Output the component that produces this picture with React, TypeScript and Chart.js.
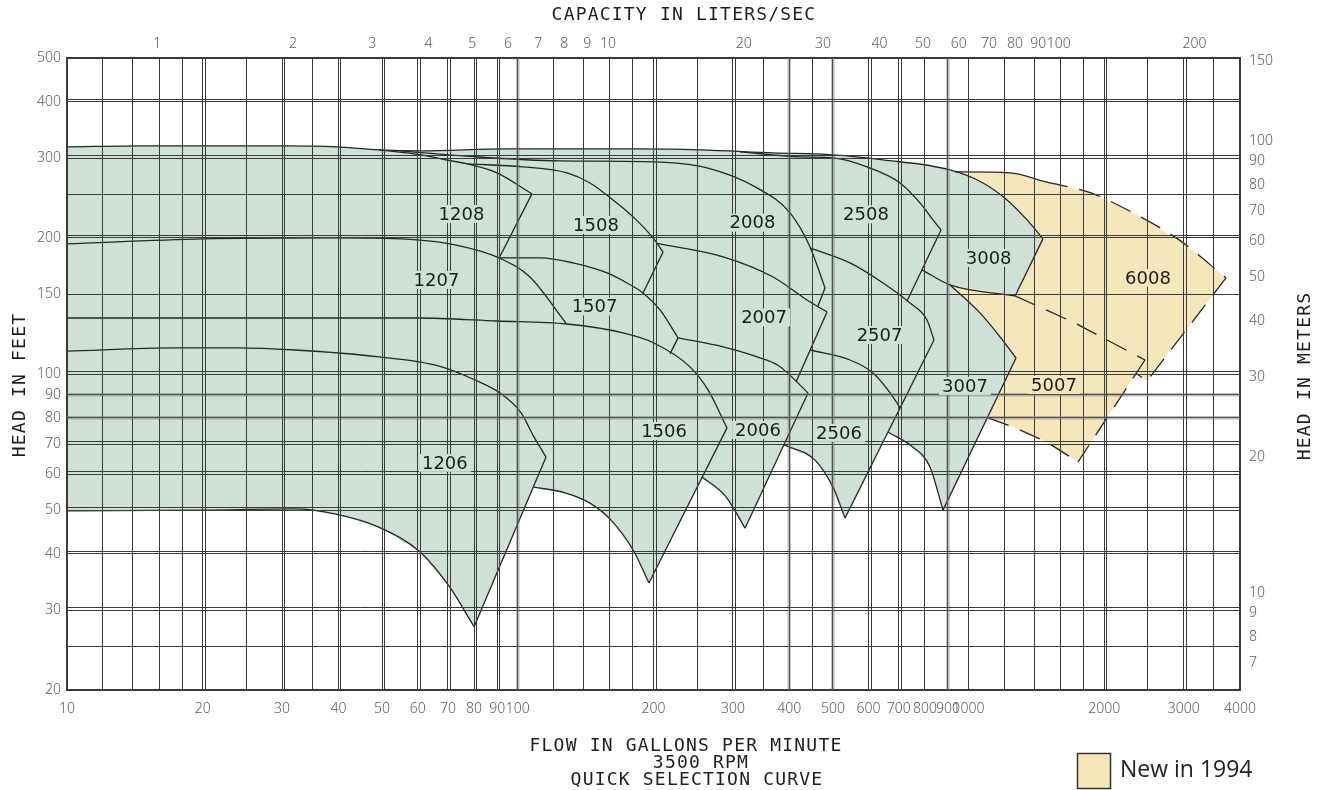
import React, { useEffect, useRef } from 'react';
import { Chart, registerables } from 'chart.js';

Chart.register(...registerables);

const GPM_TO_LPS = 0.0630902;
const FT_TO_M = 0.3048;

// axis ticks
const flowGrid = [10, 12, 14, 16, 18, 20, 25, 30, 35, 40, 50, 60, 70, 80, 90, 100, 120, 140, 160, 180, 200, 250, 300, 350, 400, 450, 500, 600, 700, 800, 900, 1000, 1200, 1400, 1600, 1800, 2000, 2500, 3000, 3500, 4000];
const flowLabels = [10, 20, 30, 40, 50, 60, 70, 80, 90, 100, 200, 300, 400, 500, 600, 700, 800, 900, 1000, 2000, 3000, 4000];
const lpsLabels = [1, 2, 3, 4, 5, 6, 7, 8, 9, 10, 20, 30, 40, 50, 60, 70, 80, 90, 100, 200];
const headGrid = [20, 25, 30, 40, 50, 60, 70, 80, 90, 100, 150, 200, 250, 300, 400, 500];
const headLabels = [20, 30, 40, 50, 60, 70, 80, 90, 100, 150, 200, 300, 400, 500];
const meterLabels = [7, 8, 9, 10, 20, 30, 40, 50, 60, 70, 80, 90, 100, 150];

// grid lines that are drawn doubled / shaded on the original sheet
const doubledFlow = [20, 30, 40, 50, 60, 70, 80, 90, 200, 300, 600, 700, 2000, 3000];
const shadedFlow = [100, 400, 500, 900];
const doubledHead = [30, 40, 50, 60, 70, 100, 200, 300, 400];
const shadedHead = [80, 90];

// pump curves, [gpm, ft]
const topEnvelope = [[10, 318], [14.75, 319.6], [22.2, 319.6], [30.6, 319.6], [39.7, 318], [49.2, 313.2], [61, 311.6], [94.6, 314.8], [186.7, 314.8], [253.6, 313.2], [368.3, 308.4], [500, 305.3], [645.9, 297.6], [909.5, 282.7], [1076, 264.6], [1217, 242.7], [1348, 219.2], [1462, 199]];
const c1208 = [[49.2, 313.2], [61, 305.3], [69.3, 297.6], [77.2, 291.5], [89.9, 278.5], [107.5, 250.3]];
const c1508 = [[77.2, 291.5], [102.7, 287.1], [128.6, 278.5], [144.6, 264.6], [162.6, 242.7], [180.2, 222.6], [199.5, 200], [210, 186.2]];
const c2008 = [[54.8, 311.6], [75.6, 303.7], [124, 296], [199.5, 294.5], [262.8, 285.6], [339.4, 258], [401.7, 227.2], [444.9, 191], [480.3, 155]];
const c2508 = [[311.1, 310], [422.7, 302.2], [500.3, 300.6], [595.2, 287.1], [704.5, 264.6], [780.2, 239.1], [833.7, 219.2], [868.5, 208.3]];
const b3008 = [[788.2, 169.9], [909.5, 157.4], [1268, 148.8]];
const c1207 = [[10, 194], [20, 199], [39.7, 200], [59.8, 198], [72.6, 193], [90.9, 180.6], [106.4, 163.9], [127.9, 129.5]];
const c1507 = [[90.9, 180.6], [112, 180.6], [132.6, 176.1], [157.8, 167.3], [174.7, 159], [189.6, 151.1], [206.8, 138.6], [226.7, 120.2]];
const c2007 = [[203.6, 194.4], [285.3, 181.6], [368.3, 163.9], [438, 145.8], [485.2, 137.2]];
const c2507 = [[444.9, 190.1], [545.7, 176.1], [645.9, 159], [741.3, 143.6], [808.5, 131.7], [838, 118.9]];
const c3007 = [[909.5, 157.4], [1060, 136.5], [1174, 120.8], [1274, 108.5]];
const c1506 = [[10, 133], [59.8, 133], [89.9, 131], [128.6, 129], [171.2, 123.3], [200.5, 117.1], [241, 103.7], [264.2, 92.2], [291.1, 76]];
const c2006 = [[226.7, 120.2], [285.3, 114.8], [339.4, 109.1], [379.8, 104.2], [440.4, 90.8]];
const c2506 = [[444.9, 113], [545.7, 107.4], [613.8, 100.5], [679.8, 89], [704.5, 84.1]];
const c1206 = [[10, 112.4], [17.5, 114.2], [23.7, 114.2], [32, 113], [49.2, 109.1], [67.2, 104], [80.4, 97], [91.3, 90.8], [101.7, 82], [108.6, 72.6], [115.5, 65.5]];
const b1206 = [[10, 49.8], [20, 50], [31.9, 50.3], [39.5, 49], [49, 45.9], [60.7, 40.4], [70.6, 33.8], [80, 27.6]];
const b1506 = [[108.6, 56.2], [127.3, 54.6], [144.6, 51.8], [161, 47.5], [180.2, 40.8], [195.4, 34.5]];
const b2006 = [[256.2, 59.2], [289.7, 53.5], [319.2, 45.6]];
const b2506 = [[389.5, 69.7], [456.4, 64.5], [500.3, 56.2], [531.9, 48]];
const b3007 = [[662.5, 74.4], [752.8, 68.9], [821, 62.3], [877.4, 50]];

// end-of-curve edges
const e1208 = [[107.5, 250.3], [90.9, 180.6]];
const e1508 = [[210, 186.2], [189.6, 151.1]];
const e2008 = [[480.3, 155], [463.5, 141.5]];
const e2508 = [[868.5, 208.3], [730.2, 145.1]];
const e3008 = [[1462, 199], [1268, 148.8]];
const e1507 = [[226.7, 120.2], [217.6, 110.8]];
const e2007 = [[485.2, 137.2], [414.2, 96]];
const e2507 = [[838, 118.9], [531.9, 48]];
const e3007 = [[1274, 108.5], [877.4, 50]];
const e1506 = [[291.1, 76], [195.4, 34.5]];
const e2006 = [[440.4, 90.8], [319.2, 45.6]];
const e1206 = [[115.5, 65.5], [80, 27.6]];

// new in 1994
const c5007 = [[1268, 148.8], [1704, 130.3], [2462, 107.4]];
const e5007 = [[2462, 107.4], [1749, 63.9]];
const b5007 = [[1104, 80], [1255, 76.4], [1492, 70.7], [1749, 63.9]];
const c6008 = [[933, 279.9], [1235, 278.5], [1485, 266], [1868, 251.5], [2316, 227.2], [2930, 198], [3724, 163.1]];
const e6008 = [[3724, 163.1], [2488, 96.5], [2364, 100]];

// filled coverage outlines
const greenArea = [
  [10, 318], [14.75, 319.6], [22.2, 319.6], [30.6, 319.6], [39.7, 318], [49.2, 313.2], [61, 311.6], [94.6, 314.8], [186.7, 314.8], [253.6, 313.2], [368.3, 308.4], [500, 305.3], [645.9, 297.6], [909.5, 282.7], [1076, 264.6], [1217, 242.7], [1348, 219.2], [1462, 199],
  [1268, 148.8], [909.5, 157.4], [1060, 136.5], [1174, 120.8], [1274, 108.5],
  [877.4, 50], [821, 62.3], [752.8, 68.9], [662.5, 74.4],
  [531.9, 48], [500.3, 56.2], [456.4, 64.5], [389.5, 69.7],
  [319.2, 45.6], [289.7, 53.5], [256.2, 59.2],
  [195.4, 34.5], [180.2, 40.8], [161, 47.5], [144.6, 51.8], [127.3, 54.6], [108.6, 56.2],
  [80, 27.6], [70.6, 33.8], [60.7, 40.4], [49, 45.9], [39.5, 49], [31.9, 50.3], [20, 50], [10, 49.8],
];
const area5007 = [[909.5, 157.4], [1268, 148.8], [1704, 130.3], [2462, 107.4], [1749, 63.9], [1492, 70.7], [1255, 76.4], [1104, 80], [1274, 108.5], [1174, 120.8], [1060, 136.5]];
const area6008 = [[933, 279.9], [1235, 278.5], [1485, 266], [1868, 251.5], [2316, 227.2], [2930, 198], [3724, 163.1], [2488, 96.5], [2364, 100], [2462, 107.4], [1704, 130.3], [1268, 148.8], [1462, 199], [1348, 219.2], [1217, 242.7], [1076, 264.6]];

// model labels
const modelNames = ['1208', '1508', '2008', '2508', '3008', '6008', '1207', '1507', '2007', '2507', '3007', '5007', '1206', '1506', '2006', '2506'];
const modelFlow = [75.0, 149.1, 331.6, 592.2, 1108, 2500, 66.0, 148.0, 351.8, 634.5, 981.7, 1547, 68.9, 211.1, 341.1, 515.9];
const modelHead = [226.0, 213.7, 216.2, 225.5, 180.6, 163.1, 161.5, 141.0, 133.4, 122.0, 94.1, 94.6, 63.6, 74.8, 75.2, 74.1];
const newModels = ['5007', '6008'];

const GREEN = '#cfe0d7';
const YELLOW = '#f5e7bb';
const INK = '#262626';
const GRID = '#3a3a3a';
const TICK = '#5c5c5c';
// stretch keyword rides along in the weight slot so the canvas picks a condensed face
const tickFont = { family: "'Noto Sans', 'DejaVu Sans', sans-serif", size: 14, weight: '300 condensed' };

const toPts = (a: number[][]) => a.map(([x, y]) => ({ x, y }));

const curve = (data: number[][], smooth = true, extra: any = {}) => ({
  data: toPts(data),
  showLine: true,
  pointRadius: 0,
  borderColor: INK,
  borderWidth: 1.3,
  fill: false,
  tension: 0,
  cubicInterpolationMode: smooth ? 'monotone' : 'default',
  ...extra,
});

const area = (data: number[][], color: string) => ({
  data: toPts(data),
  showLine: true,
  pointRadius: 0,
  borderColor: 'rgba(0,0,0,0)',
  borderWidth: 0,
  backgroundColor: color,
  fill: 'shape',
  tension: 0,
});

const DASH = [22, 12];

const sheetDecor = {
  id: 'sheetDecor',
  afterDraw(chart: any) {
    const { ctx, chartArea: a, scales } = chart;
    const sx = scales.x;
    const sy = scales.y;

    ctx.save();
    ctx.beginPath();
    ctx.rect(a.left, a.top, a.right - a.left, a.bottom - a.top);
    ctx.clip();
    ctx.strokeStyle = 'rgba(110,110,110,0.45)';
    ctx.lineWidth = 3.5;
    shadedFlow.forEach((v) => {
      const px = sx.getPixelForValue(v);
      ctx.beginPath(); ctx.moveTo(px, a.top); ctx.lineTo(px, a.bottom); ctx.stroke();
    });
    shadedHead.forEach((v) => {
      const py = sy.getPixelForValue(v);
      ctx.beginPath(); ctx.moveTo(a.left, py); ctx.lineTo(a.right, py); ctx.stroke();
    });
    ctx.strokeStyle = GRID;
    ctx.lineWidth = 1;
    doubledFlow.forEach((v) => {
      const px = Math.round(sx.getPixelForValue(v)) + 2.5;
      ctx.beginPath(); ctx.moveTo(px, a.top); ctx.lineTo(px, a.bottom); ctx.stroke();
    });
    doubledHead.forEach((v) => {
      const py = Math.round(sy.getPixelForValue(v)) - 2.5;
      ctx.beginPath(); ctx.moveTo(a.left, py); ctx.lineTo(a.right, py); ctx.stroke();
    });

    // model labels
    ctx.font = '18px "DejaVu Sans", sans-serif';
    ctx.textAlign = 'center';
    ctx.textBaseline = 'middle';
    modelNames.forEach((name, i) => {
      const px = sx.getPixelForValue(modelFlow[i]);
      const py = sy.getPixelForValue(modelHead[i]);
      const w = ctx.measureText(name).width;
      ctx.fillStyle = newModels.includes(name) ? YELLOW : GREEN;
      ctx.fillRect(px - w / 2 - 3, py - 9, w + 6, 18);
      ctx.fillStyle = '#1c1c1c';
      ctx.fillText(name, px, py + 1);
    });
    ctx.restore();

    // axis titles
    ctx.save();
    ctx.fillStyle = '#1e1e1e';
    ctx.font = '18px "DejaVu Sans Mono", monospace';
    (ctx as any).letterSpacing = '1.2px';
    ctx.textAlign = 'center';
    ctx.textBaseline = 'middle';
    ctx.fillText('CAPACITY IN LITERS/SEC', 684, 15);
    ctx.fillText('FLOW IN GALLONS PER MINUTE', 686, 746);
    ctx.fillText('3500 RPM', 701, 763);
    ctx.fillText('QUICK SELECTION CURVE', 697, 780);
    ctx.save();
    ctx.translate(20, 385);
    ctx.rotate(-Math.PI / 2);
    ctx.fillText('HEAD IN FEET', 0, 0);
    ctx.restore();
    ctx.save();
    ctx.translate(1305, 376);
    ctx.rotate(-Math.PI / 2);
    ctx.fillText('HEAD IN METERS', 0, 0);
    ctx.restore();
    ctx.restore();

    // legend
    ctx.save();
    ctx.fillStyle = YELLOW;
    ctx.fillRect(1077, 753, 34, 36);
    ctx.strokeStyle = '#333';
    ctx.lineWidth = 1.5;
    ctx.strokeRect(1077.5, 753.5, 33, 35);
    ctx.fillStyle = '#222';
    ctx.font = '23px "Open Sans", sans-serif';
    ctx.textAlign = 'left';
    ctx.textBaseline = 'alphabetic';
    ctx.fillText('New in 1994', 1120, 777);
    ctx.restore();
  },
};

export default function App() {
  const canvasRef = useRef<HTMLCanvasElement>(null);

  useEffect(() => {
    document.body.style.margin = '0';
    document.body.style.overflow = 'hidden';
    if (!canvasRef.current) return;

    const solidCurves = [topEnvelope, c1208, c1508, c2008, c2508, b3008, c3007, c1207, c1507, c2007, c2507, c1506, c2006, c2506, c1206, b1206, b1506, b2006, b2506, b3007];
    const edges = [e1208, e1508, e2008, e2508, e3008, e1507, e2007, e2507, e3007, e1506, e2006, e1206];

    const datasets: any[] = [
      ...solidCurves.map((d) => curve(d, true)),
      ...edges.map((d) => curve(d, false)),
      curve(c5007, false, { borderDash: DASH }),
      curve(e5007, false, { borderDash: DASH }),
      curve(b5007, false, { borderDash: DASH }),
      curve(e6008, false, { borderDash: DASH }),
      curve(c6008, true, { segment: { borderDash: (c: any) => (c.p0DataIndex >= 2 ? DASH : undefined) } }),
      area(area5007, YELLOW),
      area(area6008, YELLOW),
      area(greenArea, GREEN),
    ];

    const chart = new Chart(canvasRef.current, {
      type: 'scatter',
      data: { datasets },
      options: {
        animation: false,
        responsive: true,
        maintainAspectRatio: false,
        events: [],
        layout: { padding: 0 },
        plugins: {
          legend: { display: false },
          tooltip: { enabled: false },
          filler: { drawTime: 'beforeDatasetsDraw' },
        },
        scales: {
          x: {
            type: 'logarithmic',
            position: 'bottom',
            bounds: 'data',
            min: 10,
            max: 4000,
            afterBuildTicks: (s: any) => { s.ticks = flowGrid.map((v) => ({ value: v })); },
            afterFit: (s: any) => { s.height = 100; },
            ticks: {
              autoSkip: false, maxRotation: 0, minRotation: 0, padding: 11, color: TICK, font: tickFont,
              callback: (v: any) => (flowLabels.includes(v) ? String(v) : ''),
            },
            grid: { z: 1, color: GRID, lineWidth: 1, drawTicks: false },
            border: { display: true, color: GRID, width: 2, z: 1 },
          },
          xTop: {
            type: 'logarithmic',
            position: 'top',
            bounds: 'data',
            min: 10 * GPM_TO_LPS,
            max: 4000 * GPM_TO_LPS,
            afterBuildTicks: (s: any) => { s.ticks = lpsLabels.map((v) => ({ value: v })); },
            afterFit: (s: any) => { s.height = 58; },
            ticks: { autoSkip: false, maxRotation: 0, minRotation: 0, padding: 6, color: TICK, font: tickFont, callback: (v: any) => String(v) },
            grid: { display: false, drawTicks: false },
            border: { display: true, color: GRID, width: 2, z: 1 },
          },
          y: {
            type: 'logarithmic',
            position: 'left',
            bounds: 'data',
            min: 20,
            max: 500,
            afterBuildTicks: (s: any) => { s.ticks = headGrid.map((v) => ({ value: v })); },
            afterFit: (s: any) => { s.width = 67; },
            ticks: {
              autoSkip: false, padding: 6, color: TICK, font: tickFont,
              callback: (v: any) => (headLabels.includes(v) ? String(v) : ''),
            },
            grid: { z: 1, color: GRID, lineWidth: 1, drawTicks: false },
            border: { display: true, color: GRID, width: 2, z: 1 },
          },
          yRight: {
            type: 'logarithmic',
            position: 'right',
            bounds: 'data',
            min: 20 * FT_TO_M,
            max: 500 * FT_TO_M,
            afterBuildTicks: (s: any) => { s.ticks = meterLabels.map((v) => ({ value: v })); },
            afterFit: (s: any) => { s.width = 82; },
            ticks: { autoSkip: false, padding: 9, color: TICK, font: tickFont, callback: (v: any) => String(v) },
            grid: { display: false, drawTicks: false },
            border: { display: true, color: GRID, width: 2, z: 1 },
          },
        },
      } as any,
      plugins: [sheetDecor],
    });

    return () => chart.destroy();
  }, []);

  return (
    <div style={{ width: 1322, height: 790, position: 'relative', background: '#fff' }}>
      <canvas ref={canvasRef} />
    </div>
  );
}
